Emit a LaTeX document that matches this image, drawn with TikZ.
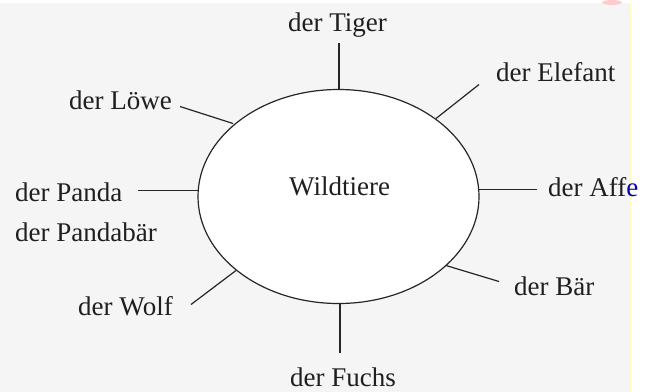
\documentclass[tikz,border=0pt]{standalone}
\usepackage{fontspec}
\setmainfont{Liberation Serif}
\usetikzlibrary{shapes.geometric}
\begin{document}
\begin{tikzpicture}[x=1pt,y=-1pt,
  lbl/.style={font=\fontsize{27}{30}\selectfont, inner sep=0pt, anchor=base west, text=black!88},
  spoke/.style={line width=1.2pt, draw=black!85}]
\fill[black!4] (0,0) rectangle (652,389);
\fill[white] (630,0) rectangle (652,389);
\draw[yellow!25, line width=0.6pt] (630,0) -- (630,389);
\fill[red!20] (612,0) ellipse (10pt and 2.5pt);
\useasboundingbox (0,0) rectangle (652,389);
% ellipse
\node[draw=black!85, fill=white, line width=1.2pt, ellipse, minimum width=281pt, minimum height=214pt, inner sep=0pt] (c) at (338.5,194) {};
\node[lbl] (w) at (289,193) {Wildtiere};
% spoke endpoints on ellipse
\coordinate (eT) at (339,87);
\coordinate (eE) at (436,116);
\coordinate (eA) at (479,187);
\coordinate (eB) at (446,263);
\coordinate (eF) at (340,301);
\coordinate (eW) at (236,268);
\coordinate (eP) at (198,188);
\coordinate (eL) at (233,121);
% outer ends
\coordinate (oT) at (339,40);
\coordinate (oE) at (479,82);
\coordinate (oA) at (537,187);
\coordinate (oB) at (499,279);
\coordinate (oF) at (340,350);
\coordinate (oW) at (191,302);
\coordinate (oP) at (138,188);
\coordinate (oL) at (180,104);
\foreach \s in {T,E,A,B,F,W,P,L} {\draw[spoke] (e\s) -- (o\s);}
% labels
\node[lbl] (tiger) at (288,29) {der Tiger};
\node[lbl] (elefant) at (496,79) {der Elefant};
\node[lbl] (loewe) at (69,107) {der Löwe};
\node[lbl] (panda) at (15,199) {der Panda};
\node[lbl] (pandabaer) at (15,239) {der Pandabär};
\node[lbl] (affe) at (548,194) {der Aff\textcolor{blue!70!black}{e}};
\node[lbl] (baer) at (514,293) {der Bär};
\node[lbl] (wolf) at (78,313) {der Wolf};
\node[lbl] (fuchs) at (290,384) {der Fuchs};
\end{tikzpicture}
\end{document}
